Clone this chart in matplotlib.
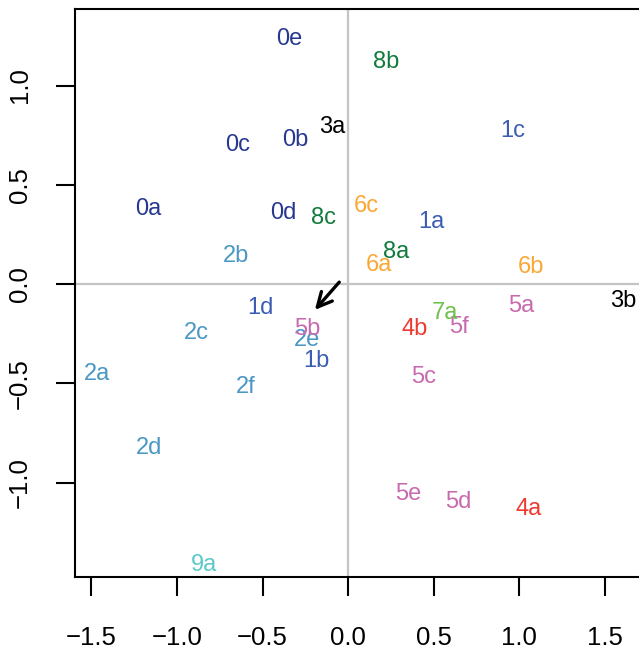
import matplotlib.pyplot as plt

plt.rcParams['font.family'] = ['Liberation Sans', 'DejaVu Sans']

# etiquetas y coordenadas
etiquetas = ['0a', '0b', '0c', '0d', '0e',
             '1a', '1b', '1c', '1d',
             '2a', '2b', '2c', '2d', '2e', '2f',
             '3a', '3b',
             '4a', '4b',
             '5a', '5b', '5c', '5d', '5e', '5f',
             '6a', '6b', '6c',
             '7a',
             '8a', '8b', '8c',
             '9a']
x = [-1.170, -0.310, -0.643, -0.380, -0.345,
     0.485, -0.187, 0.965, -0.515,
     -1.468, -0.655, -0.889, -1.164, -0.240, -0.596,
     -0.094, 1.608,
     1.053, 0.386,
     1.012, -0.240, 0.444, 0.643, 0.351, 0.649,
     0.181, 1.070, 0.105,
     0.567,
     0.281, 0.222, -0.146,
     -0.842]
y = [0.388, 0.735, 0.710, 0.368, 1.244,
     0.322, -0.378, 0.781, -0.111,
     -0.443, 0.151, -0.237, -0.816, -0.272, -0.509,
     0.801, -0.076,
     -1.123, -0.217,
     -0.101, -0.217, -0.458, -1.088, -1.048, -0.207,
     0.106, 0.096, 0.403,
     -0.136,
     0.171, 1.128, 0.343,
     -1.406]

colores = {'0': '#27388F', '1': '#3B5DB3', '2': '#4A97C3', '3': '#000000',
           '4': '#EE3B30', '5': '#C86AAE', '6': '#FBA733', '7': '#6DC24B',
           '8': '#127A3C', '9': '#5CC8C9'}

flecha_ini = (-0.041, 0.020)
flecha_fin = (-0.205, -0.141)

fig = plt.figure(figsize=(6.39, 6.51), dpi=100)
ax = fig.add_axes([0.1174, 0.1137, 0.8826, 0.8723])

ax.axhline(0, color='#C4C4C4', lw=1.6, zorder=0)
ax.axvline(0, color='#C4C4C4', lw=1.6, zorder=0)

for et, xi, yi in zip(etiquetas, x, y):
    ax.text(xi, yi - 0.008, et, color=colores[et[0]], fontsize=17,
            ha='center', va='center')

ax.annotate('', xy=flecha_fin, xytext=flecha_ini,
            arrowprops=dict(arrowstyle='->', lw=2.4, color='black',
                            mutation_scale=26))

ax.set_xlim(-1.596, 1.70)
ax.set_ylim(-1.476, 1.385)
ax.set_xticks([-1.5, -1.0, -0.5, 0.0, 0.5, 1.0, 1.5])
ax.set_yticks([-1.0, -0.5, 0.0, 0.5, 1.0])
ax.set_xticklabels(['\u22121.5', '\u22121.0', '\u22120.5', '0.0', '0.5', '1.0', '1.5'])
ax.set_yticklabels(['\u22121.0', '\u22120.5', '0.0', '0.5', '1.0'],
                   rotation=90, va='center')
ax.tick_params(length=14, width=1.5, labelsize=18.5, pad=21)
ax.tick_params(axis='y', pad=17)
ax.spines['right'].set_visible(False)
for s in ['left', 'top', 'bottom']:
    ax.spines[s].set_linewidth(1.5)

fig.savefig('out.png', dpi=100)
